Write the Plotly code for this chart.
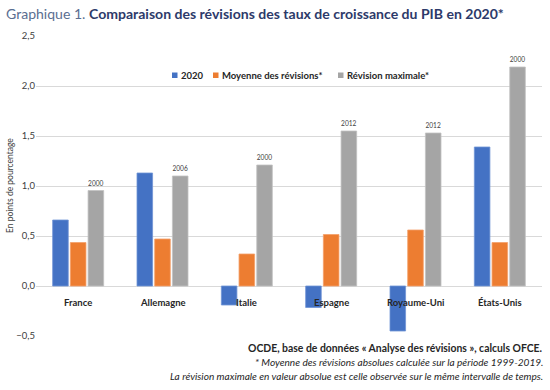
import plotly.graph_objects as go

categories = ["France", "Allemagne", "Italie", "Espagne", "Royaume-Uni", "États-Unis"]
rev_2020 = [0.66, 1.13, -0.19, -0.215, -0.45, 1.39]
rev_moyenne = [0.435, 0.47, 0.32, 0.515, 0.56, 0.435]
rev_max = [0.955, 1.10, 1.21, 1.55, 1.53, 2.19]
rev_max_year = ["2000", "2006", "2000", "2012", "2012", "2000"]
y_ticks = [-0.5, 0.0, 0.5, 1.0, 1.5, 2.0, 2.5]
series_names = ["2020", "Moyenne des révisions*", "Révision maximale*"]

FONT = "Lato"
BLUE = "#4472C4"
ORANGE = "#ED7D31"
GREY = "#A5A5A5"
colors = [BLUE, ORANGE, GREY]
edge_colors = ["#7094d6", "#f4a06a", "#c2c2c2"]

# plot area in pixels
L, R, T, B = 36, 542, 36, 336
W, H = R - L, B - T
def px(xp):
    return (xp - L) / W
def py(yp):
    return (B - yp) / H

fig = go.Figure()
fig.add_trace(go.Bar(name=series_names[0], x=categories, y=rev_2020, marker_color=BLUE,
                     marker_line=dict(width=0.8, color=edge_colors[0])))
fig.add_trace(go.Bar(name=series_names[1], x=categories, y=rev_moyenne,
                     marker_color=ORANGE, marker_line=dict(width=0.8, color=edge_colors[1])))
fig.add_trace(go.Bar(name=series_names[2], x=categories, y=rev_max,
                     marker_color=GREY, marker_line=dict(width=0.8, color=edge_colors[2]),
                     text=rev_max_year, textposition="outside",
                     textfont=dict(size=8, color="#404040", family=FONT),
                     cliponaxis=False))

for c in categories:
    fig.add_annotation(x=c, y=0, xref="x", yref="y", text="<b>" + c + "</b>",
                       showarrow=False, yanchor="top", yshift=-9,
                       font=dict(size=9.5, color="#262626", family=FONT))

# manual legend
legend_sq_x = [172, 213, 338]
for name, col, xs in zip(series_names, colors, legend_sq_x):
    fig.add_shape(type="rect", xref="paper", yref="paper",
                  x0=px(xs), x1=px(xs + 5.5), y0=py(78), y1=py(72.5),
                  fillcolor=col, line_width=0)
    fig.add_annotation(xref="paper", yref="paper", x=px(xs + 7), y=py(75),
                       xanchor="left", yanchor="middle", text="<b>" + name + "</b>",
                       showarrow=False, font=dict(size=9.5, color="#262626", family=FONT))

fig.add_annotation(xref="paper", yref="paper", x=px(4), y=py(13),
                   xanchor="left", yanchor="middle",
                   text="<span style='color:#5a6e91'>Graphique 1.</span> <b>Comparaison des révisions des taux de croissance du PIB en 2020*</b>",
                   showarrow=False,
                   font=dict(size=14.05, color="#2d3a6a", family=FONT))

fig.add_annotation(xref="paper", yref="paper", x=px(10), y=py(186),
                   xanchor="center", yanchor="middle", textangle=-90,
                   text="En points de pourcentage", showarrow=False,
                   font=dict(size=8.5, color="#404040", family=FONT))

footer = [
    ("<b>OCDE, base de données « Analyse des révisions », calculs OFCE.</b>", 348, 10.4),
    ("<i>* Moyenne des révisions absolues calculée sur la période 1999-2019.</i>", 362, 10.1),
    ("<i>La révision maximale en valeur absolue est celle observée sur le même intervalle de temps.</i>", 376, 10.1),
]
for txt, ypx, fs in footer:
    fig.add_annotation(xref="paper", yref="paper", x=px(545), y=py(ypx),
                       xanchor="right", yanchor="middle", text=txt, showarrow=False,
                       font=dict(size=fs, color="#262626", family=FONT))

fig.update_layout(
    width=550, height=390,
    margin=dict(l=L, r=550 - R, t=T, b=390 - B, autoexpand=False),
    paper_bgcolor="white", plot_bgcolor="white",
    separators=", ",
    barmode="group", bargap=0.37, bargroupgap=0.12,
    font=dict(family=FONT, size=9, color="#404040"),
    showlegend=False,
    xaxis=dict(showticklabels=False, showgrid=False, zeroline=False, showline=False,
               ticks="", automargin=False),
    yaxis=dict(range=[-0.5, 2.5], tickvals=y_ticks, tickformat=".1f",
               showgrid=True, gridcolor="#d9d9d9", gridwidth=1,
               zeroline=True, zerolinecolor="#d9d9d9", zerolinewidth=1,
               showline=False, ticks="", automargin=False,
               tickfont=dict(size=9.5, color="#404040", family=FONT)),
)
fig.write_html("out.html", config={"displayModeBar": False},
               post_script="document.body.style.margin='0';")
